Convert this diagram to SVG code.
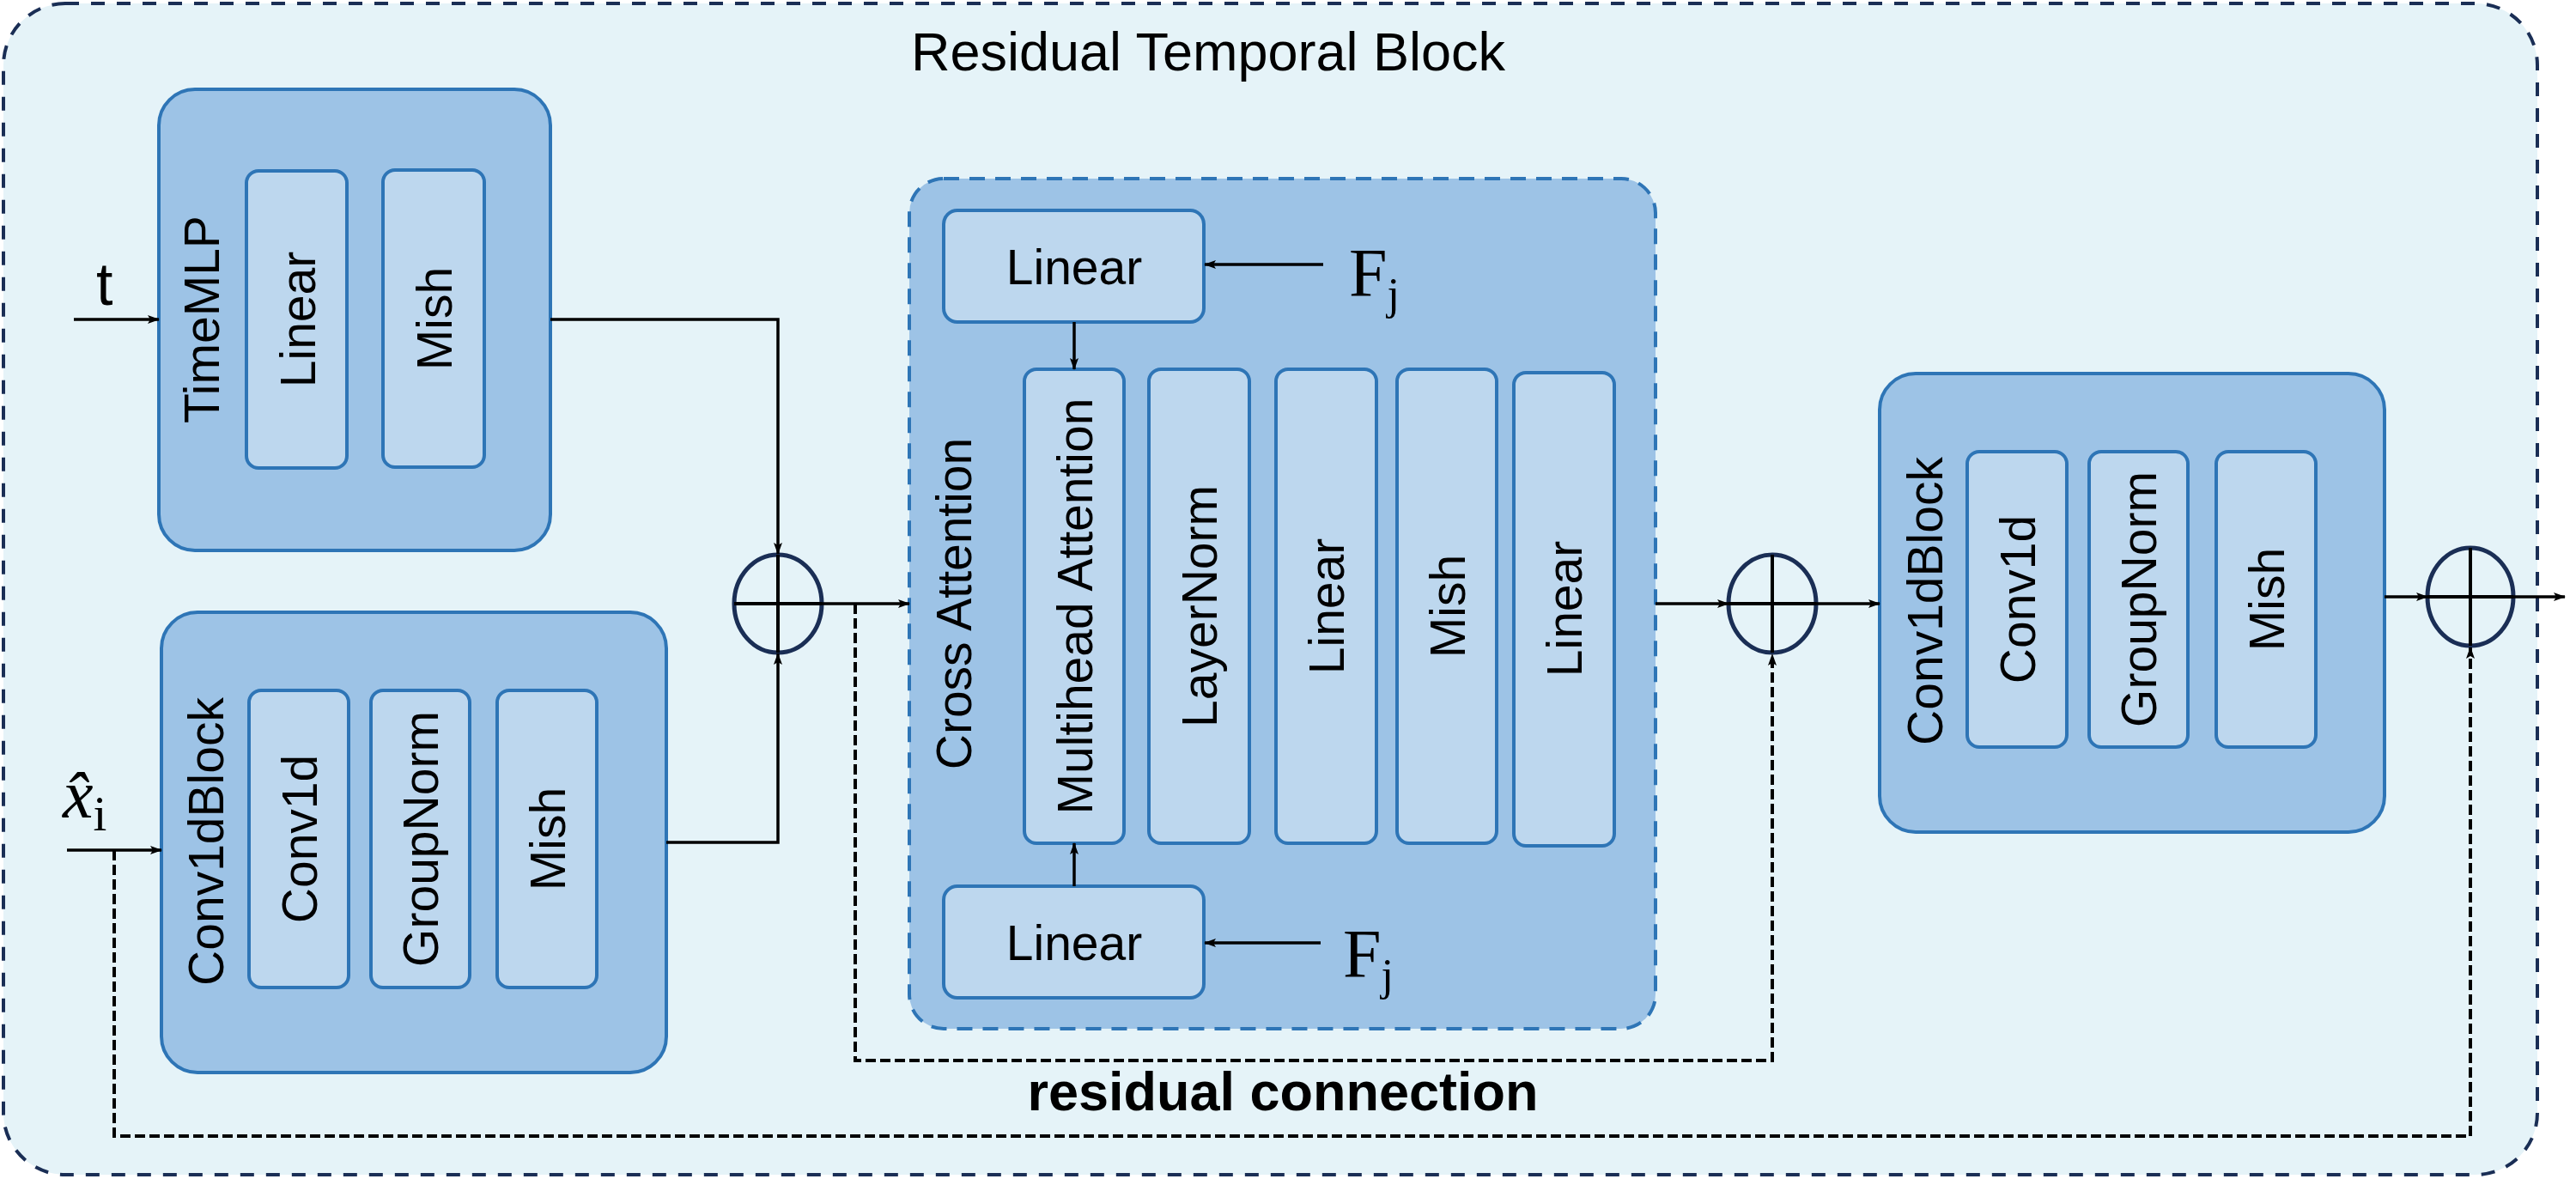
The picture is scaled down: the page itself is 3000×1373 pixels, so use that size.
<svg xmlns="http://www.w3.org/2000/svg" width="3000" height="1373" viewBox="0 0 3000 1373">
<defs>
<marker id="arr" markerUnits="userSpaceOnUse" markerWidth="16" markerHeight="12" refX="13" refY="5" orient="auto">
<path d="M0,0 L14,5 L0,10 L3,5 z" fill="#000"/>
</marker>
<style>
.outer{fill:#e5f3f8;stroke:#1a2e55;stroke-width:4;stroke-dasharray:16 14}
.cont{fill:#9dc3e6;stroke:#2e75b6;stroke-width:4}
.contd{fill:#9dc3e6;stroke:#2e75b6;stroke-width:4;stroke-dasharray:18 12}
.inner{fill:#bdd7ee;stroke:#2e75b6;stroke-width:4}
.sum{fill:none;stroke:#1a2e55;stroke-width:5}
.cross{stroke:#000;stroke-width:4;fill:none}
.ln{stroke:#000;stroke-width:3.5;fill:none}
.dash{stroke:#000;stroke-width:4;fill:none;stroke-dasharray:12 5}
.lbl{font-family:"Liberation Sans",Arial,sans-serif;font-size:57px;fill:#000}
.title{font-family:"Liberation Sans",Arial,sans-serif;font-size:63px;fill:#000}
.bold{font-family:"Liberation Sans",Arial,sans-serif;font-size:63px;font-weight:bold;fill:#000}
.math{font-family:"Liberation Serif","Times New Roman",serif;fill:#000}
</style>
</defs>

<g id="outer">
<rect class="outer" x="4" y="4" width="2951" height="1364" rx="72"/>
<text class="title" x="1407" y="82" text-anchor="middle">Residual Temporal Block</text>
</g>

<g id="timemlp">
<rect class="cont" x="185" y="104" width="456" height="537" rx="42"/>
<text class="lbl" transform="translate(255,372) rotate(-90)" text-anchor="middle">TimeMLP</text>
<rect class="inner" x="287" y="199" width="117" height="346" rx="14"/>
<text class="lbl" transform="translate(367,372) rotate(-90)" text-anchor="middle">Linear</text>
<rect class="inner" x="446" y="198" width="118" height="346" rx="14"/>
<text class="lbl" transform="translate(526,371) rotate(-90)" text-anchor="middle">Mish</text>
</g>

<g id="conv1dblock1">
<rect class="cont" x="188" y="713" width="588" height="536" rx="42"/>
<text class="lbl" transform="translate(260,980) rotate(-90)" text-anchor="middle">Conv1dBlock</text>
<rect class="inner" x="290" y="804" width="116" height="346" rx="14"/>
<text class="lbl" transform="translate(369,977) rotate(-90)" text-anchor="middle">Conv1d</text>
<rect class="inner" x="432" y="804" width="115" height="346" rx="14"/>
<text class="lbl" transform="translate(510,977) rotate(-90)" text-anchor="middle">GroupNorm</text>
<rect class="inner" x="579" y="804" width="116" height="346" rx="14"/>
<text class="lbl" transform="translate(658,977) rotate(-90)" text-anchor="middle">Mish</text>
</g>

<g id="crossattention">
<rect class="contd" x="1059" y="208" width="869" height="990" rx="40"/>
<text class="lbl" transform="translate(1131,703) rotate(-90)" text-anchor="middle">Cross Attention</text>
<rect class="inner" x="1099" y="245" width="303" height="130" rx="16"/>
<text class="lbl" x="1251" y="331" text-anchor="middle">Linear</text>
<rect class="inner" x="1099" y="1032" width="303" height="130" rx="16"/>
<text class="lbl" x="1251" y="1118" text-anchor="middle">Linear</text>
<rect class="inner" x="1193" y="430" width="116" height="552" rx="14"/>
<text class="lbl" transform="translate(1272,706) rotate(-90)" text-anchor="middle">Multihead Attention</text>
<rect class="inner" x="1338" y="430" width="117" height="552" rx="14"/>
<text class="lbl" transform="translate(1417,706) rotate(-90)" text-anchor="middle">LayerNorm</text>
<rect class="inner" x="1486" y="430" width="117" height="552" rx="14"/>
<text class="lbl" transform="translate(1565,706) rotate(-90)" text-anchor="middle">Linear</text>
<rect class="inner" x="1627" y="430" width="116" height="552" rx="14"/>
<text class="lbl" transform="translate(1706,706) rotate(-90)" text-anchor="middle">Mish</text>
<rect class="inner" x="1763" y="434" width="117" height="551" rx="14"/>
<text class="lbl" transform="translate(1842,709) rotate(-90)" text-anchor="middle">Linear</text>
</g>

<g id="conv1dblock2">
<rect class="cont" x="2189" y="435" width="588" height="534" rx="42"/>
<text class="lbl" transform="translate(2262,700) rotate(-90)" text-anchor="middle">Conv1dBlock</text>
<rect class="inner" x="2291" y="526" width="116" height="344" rx="14"/>
<text class="lbl" transform="translate(2370,698) rotate(-90)" text-anchor="middle">Conv1d</text>
<rect class="inner" x="2433" y="526" width="115" height="344" rx="14"/>
<text class="lbl" transform="translate(2511,698) rotate(-90)" text-anchor="middle">GroupNorm</text>
<rect class="inner" x="2581" y="526" width="116" height="344" rx="14"/>
<text class="lbl" transform="translate(2660,698) rotate(-90)" text-anchor="middle">Mish</text>
</g>

<g id="sum1">
<ellipse class="sum" cx="906" cy="703" rx="51" ry="57"/>
<path class="cross" d="M855,703 H957 M906,646 V760"/>
</g>
<g id="sum2">
<ellipse class="sum" cx="2064" cy="703" rx="51" ry="57"/>
<path class="cross" d="M2013,703 H2115 M2064,646 V760"/>
</g>
<g id="sum3">
<ellipse class="sum" cx="2877" cy="695" rx="50" ry="57"/>
<path class="cross" d="M2827,695 H2927 M2877,638 V752"/>
</g>

<g id="inputs">
<text class="lbl" x="112" y="355" style="font-size:70px">t</text>
<text class="math" x="73" y="952" style="font-size:80px;font-style:italic">x&#x302;<tspan dy="15" style="font-size:57px;font-style:normal">i</tspan></text>
<text class="math" x="1571" y="345" style="font-size:80px">F<tspan dy="15" style="font-size:52px">j</tspan></text>
<text class="math" x="1564" y="1138" style="font-size:80px">F<tspan dy="15" style="font-size:52px">j</tspan></text>
<text class="bold" x="1494" y="1293" text-anchor="middle">residual connection</text>
</g>

<g id="connectors">
<path class="ln" d="M86,372 H185" marker-end="url(#arr)"/>
<path class="ln" d="M78,990 H188" marker-end="url(#arr)"/>
<path class="ln" d="M641,372 H906 V645" marker-end="url(#arr)"/>
<path class="ln" d="M776,981 H906 V761" marker-end="url(#arr)"/>
<path class="ln" d="M957,703 H1059" marker-end="url(#arr)"/>
<path class="ln" d="M1541,308 H1403" marker-end="url(#arr)"/>
<path class="ln" d="M1538,1098 H1403" marker-end="url(#arr)"/>
<path class="ln" d="M1251,375 V430" marker-end="url(#arr)"/>
<path class="ln" d="M1251,1032 V982" marker-end="url(#arr)"/>
<path class="ln" d="M1928,703 H2013" marker-end="url(#arr)"/>
<path class="ln" d="M2115,703 H2189" marker-end="url(#arr)"/>
<path class="ln" d="M2777,695 H2827" marker-end="url(#arr)"/>
<path class="ln" d="M2927,695 H2987" marker-end="url(#arr)"/>
<path class="dash" d="M996,703 V1235 H2064 V762" marker-end="url(#arr)"/>
<path class="dash" d="M133,990 V1323 H2877 V754" marker-end="url(#arr)"/>
</g>
</svg>
